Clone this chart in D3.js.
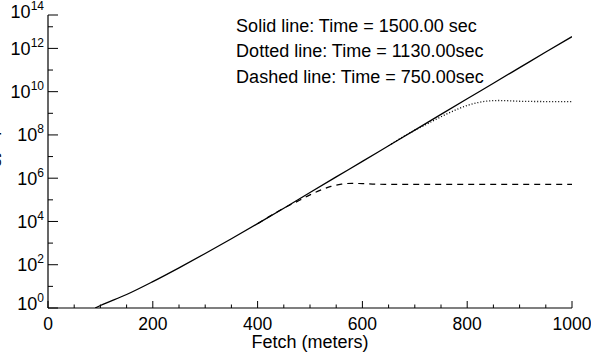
<!DOCTYPE html>
<html>
<head>
<meta charset="utf-8">
<script src="https://cdn.jsdelivr.net/npm/d3@7"></script>
<style>
  body { margin: 0; background: #fff; }
  svg { display: block; font-family: "Liberation Sans", Arial, sans-serif; }
</style>
</head>
<body>
<svg id="chart" width="591" height="354"></svg>
<script>
// fetch (m) and wave value
const solidFetch = [90, 100, 150, 200, 250, 300, 350, 400, 450, 500, 550, 600, 650, 700, 750, 800, 850, 900, 950, 1000];
const solidValues = [1.0, 1.3, 4.2, 16.6, 72, 331, 1.58e3, 7.9e3, 4.1e4, 2.19e5, 1.15e6, 6.0e6, 3.16e7, 1.66e8, 8.9e8, 4.7e9, 2.45e10, 1.29e11, 6.8e11, 3.5e12];

const dottedFetch = [650, 700, 720, 740, 760, 780, 800, 820, 840, 860, 880, 900, 950, 1000];
const dottedValues = [3.16e7, 1.66e8, 2.9e8, 5.2e8, 9.1e8, 1.5e9, 2.3e9, 3.1e9, 3.7e9, 3.9e9, 3.8e9, 3.6e9, 3.5e9, 3.5e9];

const dashedFetch = [400, 450, 480, 500, 520, 540, 560, 580, 600, 625, 650, 700, 800, 900, 1000];
const dashedValues = [7.9e3, 4.1e4, 9.5e4, 1.7e5, 2.8e5, 4.2e5, 5.3e5, 5.8e5, 5.6e5, 5.3e5, 5.2e5, 5.2e5, 5.2e5, 5.2e5, 5.2e5];

const legendLines = [
  'Solid line: Time = 1500.00 sec',
  'Dotted line: Time = 1130.00sec',
  'Dashed line: Time = 750.00sec'
];

const xTicks = [0, 200, 400, 600, 800, 1000];
const xMinor = [50, 100, 150, 250, 300, 350, 450, 500, 550, 650, 700, 750, 850, 900, 950];
const yExponents = [0, 2, 4, 6, 8, 10, 12, 14];
const yMinor = [1e1, 1e3, 1e5, 1e7, 1e9, 1e11, 1e13];
const yTop = 3.5e13; // axis stops short of 1e14, top label still reads 10^14
const yTitle = 'Wave energy spectrum';

const MARGIN = { top: 15, right: 19, bottom: 46, left: 48 };
const W = 591, H = 354;
const width = W - MARGIN.left - MARGIN.right;
const height = H - MARGIN.top - MARGIN.bottom;

const svg = d3.select('#chart');
const g = svg.append('g').attr('transform', `translate(${MARGIN.left},${MARGIN.top})`);

const x = d3.scaleLinear().domain([0, 1000]).range([0, width]);
const y = d3.scaleLog().domain([1, yTop]).range([height, 0]);

svg.append('defs').append('clipPath').attr('id', 'clip')
  .append('rect').attr('width', width).attr('height', height);

const line = d3.line()
  .x(d => x(d[0]))
  .y(d => y(d[1]))
  .curve(d3.curveMonotoneX);

const series = [
  { f: solidFetch, v: solidValues, dash: null, w: 1.3 },
  { f: dottedFetch, v: dottedValues, dash: '1,2', w: 1.3 },
  { f: dashedFetch, v: dashedValues, dash: '6,5', w: 1.2 }
];

const plot = g.append('g').attr('clip-path', 'url(#clip)');
series.forEach(s => {
  plot.append('path')
    .datum(d3.zip(s.f, s.v))
    .attr('d', line)
    .attr('fill', 'none')
    .attr('stroke', '#000')
    .attr('stroke-width', s.w)
    .attr('stroke-dasharray', s.dash);
});

// x axis: ticks pointing up into the plot
const xAxis = g.append('g').attr('transform', `translate(0,${height})`);
xAxis.append('line').attr('x1', 0).attr('x2', width).attr('stroke', '#000').attr('stroke-width', 1.2);
xAxis.selectAll('.maj').data(xTicks).enter().append('line')
  .attr('x1', d => x(d)).attr('x2', d => x(d)).attr('y1', 0).attr('y2', -7)
  .attr('stroke', '#000');
xAxis.selectAll('.min').data(xMinor).enter().append('line')
  .attr('x1', d => x(d)).attr('x2', d => x(d)).attr('y1', 0).attr('y2', -3.5)
  .attr('stroke', '#000');
xAxis.selectAll('text').data(xTicks).enter().append('text')
  .attr('x', d => x(d)).attr('y', 22)
  .attr('text-anchor', 'middle')
  .attr('font-size', 17.5)
  .text(d => d);
g.append('text')
  .attr('x', width / 2).attr('y', height + 40)
  .attr('text-anchor', 'middle')
  .attr('font-size', 18)
  .text('Fetch (meters)');

// y axis: ticks pointing right into the plot
const yVals = yExponents.map((e, i) => (i === yExponents.length - 1 ? yTop : Math.pow(10, e)));
const yAxis = g.append('g');
yAxis.append('line').attr('y1', 0).attr('y2', height).attr('stroke', '#000').attr('stroke-width', 1.2);
yAxis.selectAll('.maj').data(yVals).enter().append('line')
  .attr('y1', d => y(d)).attr('y2', d => y(d)).attr('x1', 0).attr('x2', 10)
  .attr('stroke', '#000');
yAxis.selectAll('.min').data(yMinor).enter().append('line')
  .attr('y1', d => y(d)).attr('y2', d => y(d)).attr('x1', 0).attr('x2', 5)
  .attr('stroke', '#000');
// end labels are nudged up a little, as in the original
const yLab = yAxis.selectAll('text').data(yVals).enter().append('text')
  .attr('x', -4)
  .attr('y', (d, i) => y(d) + 6.5 - (i === 0 ? 5 : 0) - (i === yVals.length - 1 ? 4 : 0))
  .attr('text-anchor', 'end')
  .attr('font-size', 18);
yLab.append('tspan').text('10');
yLab.append('tspan')
  .attr('dy', -8)
  .attr('font-size', 12)
  .text((d, i) => yExponents[i]);

// y title sits almost entirely off the left edge, as in the original
svg.append('text')
  .attr('transform', `translate(-2,${MARGIN.top + height / 2}) rotate(-90)`)
  .attr('text-anchor', 'middle')
  .attr('font-size', 17)
  .text(yTitle);

// legend text
const legend = g.append('g').attr('transform', `translate(${x(359)},16.5)`);
legend.selectAll('text').data(legendLines).enter().append('text')
  .attr('x', 0).attr('y', (d, i) => i * 25.5)
  .attr('font-size', 18)
  .text(d => d);
</script>
</body>
</html>
